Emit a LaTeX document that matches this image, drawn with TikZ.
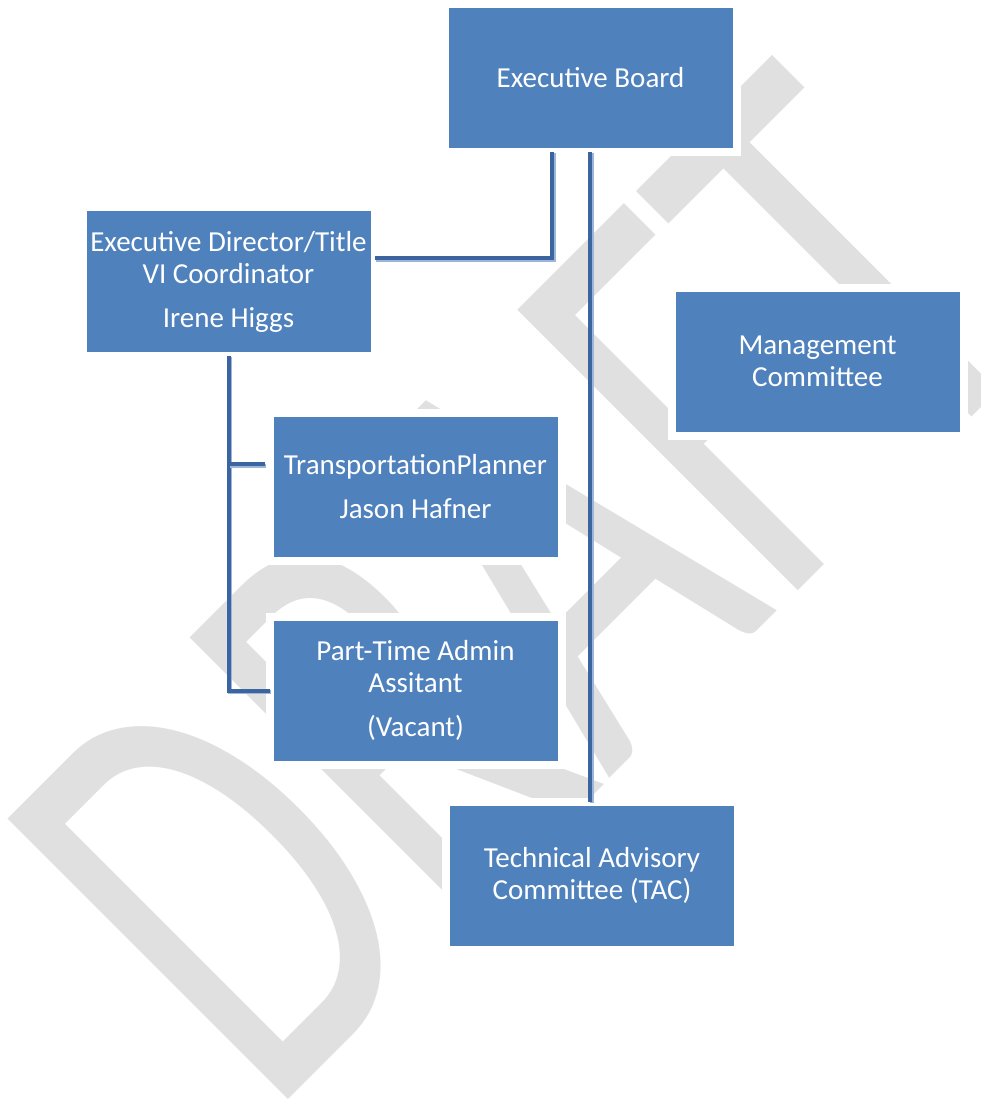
\documentclass[tikz,border=0pt]{standalone}
\usepackage{fontspec}
\setmainfont{Carlito}
\usetikzlibrary{calc}
\definecolor{boxblue}{RGB}{79,129,189}
\definecolor{conndark}{RGB}{60,100,158}
\definecolor{connlight}{RGB}{155,182,218}
\definecolor{wmgray}{RGB}{224,224,224}
\begin{document}
\begin{tikzpicture}[x=1pt,y=1pt,
  box/.style={fill=boxblue, draw=white, line width=8pt, minimum width=292pt,
    minimum height=148pt, inner sep=0pt, outer sep=0pt, text=white,
    align=center, font=\fontsize{29}{32}\selectfont},
  conn/.style={draw=conndark, line width=4pt,
    preaction={draw=connlight, line width=4pt, transform canvas={shift={(1.5pt,-1.5pt)}}}}]
\useasboundingbox (0,0) rectangle (980,-1099);
\fill[white] (0,0) rectangle (980,-1099);
% watermark
\begin{scope}
\clip (0,0) rectangle (980,-1099);
\begin{scope}[shift={(662.5,-726)}, rotate=45, yscale=1.49]
\node[transform shape, anchor=base, inner sep=0pt, text=wmgray,
  font=\fontsize{415}{415}\selectfont] (wm) at (0,0) {DRAFT};
\end{scope}
\end{scope}
% boxes
\node[box] (EB) at (590.5,-78) {Executive Board};
\node[box] (ED) at (228.5,-281.5) {Executive Director/Title\\VI Coordinator\\[12pt]Irene Higgs};
\node[box] (MC) at (817.5,-361.5) {Management\\Committee};
\node[box] (TP) at (415.5,-486.5) {TransportationPlanner\\[12pt]Jason Hafner};
\node[box] (PT) at (415.5,-690.5) {Part-Time Admin\\Assitant\\[12pt](Vacant)};
\node[box] (TAC) at (592,-875.5) {Technical Advisory\\Committee (TAC)};
% connectors
\draw[conn] ([xshift=-38.5pt]EB.south) |- ($(ED.east)+(0,23.5)$);
\draw[conn] ([xshift=-0.5pt]EB.south) -- ($(EB.south |- TAC.north)+(-0.5,0)$);
\draw[conn] (ED.south) |- (PT.west);
\draw[conn] ($(ED.south |- TP.west)+(0,22.5)$) -- ($(TP.west)+(-5,22.5)$);
\end{tikzpicture}
\end{document}
